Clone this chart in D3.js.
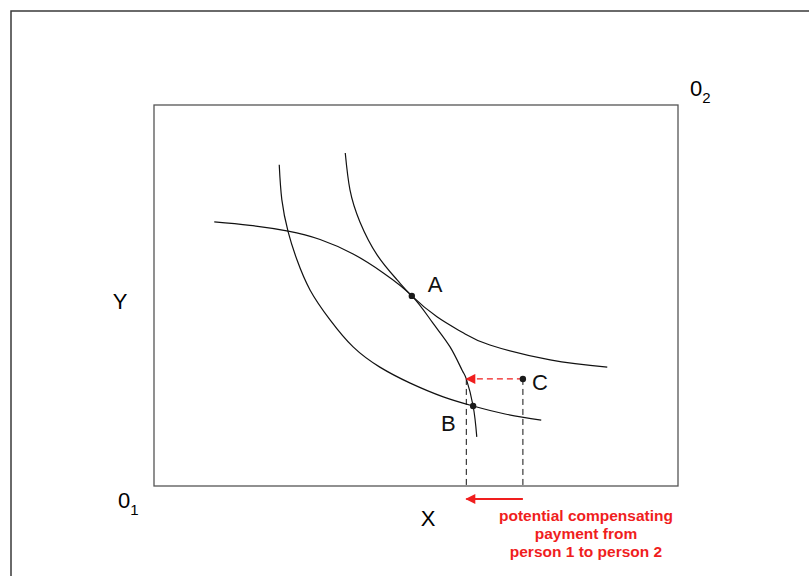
<!DOCTYPE html>
<html>
<head>
<meta charset="utf-8">
<script src="https://cdn.jsdelivr.net/npm/d3@7"></script>
<style>
body { margin: 0; background: #fff; }
svg { display: block; font-family: Arial, "Liberation Sans", sans-serif; }
</style>
</head>
<body>
<div id="chart"></div>
<script>
var width = 809;
var height = 576;

// indifference curves, in units of the box (X and Y from 0 to 10)
var person1Low = [[2.39,8.43],[2.44,7.51],[2.56,6.67],[2.73,5.93],[2.98,5.14],[3.36,4.36],[3.80,3.65],[4.31,3.12],[4.89,2.70],[5.52,2.34],[6.09,2.10],[6.70,1.89],[7.39,1.73]];
var person1High = [[3.65,8.74],[3.74,7.77],[3.93,6.93],[4.26,6.06],[4.64,5.41],[4.92,4.99],[5.40,4.44],[5.90,4.02],[6.41,3.70],[7.56,3.31],[8.65,3.12]];
var person2 = [[1.15,6.93],[1.83,6.84],[2.56,6.69],[3.17,6.47],[3.80,6.09],[4.37,5.60],[4.92,4.99],[5.32,4.28],[5.65,3.65],[5.88,3.04],[5.96,2.81],[6.09,2.10],[6.16,1.29]];

var pointNames = ['A', 'B', 'C'];
var pointValues = [[4.92,4.99],[6.09,2.10],[7.04,2.81]];
var compTarget = [5.96, 2.81];

var noteLines = ['potential compensating', 'payment from', 'person 1 to person 2'];

var box = {left: 154, right: 678, top: 105, bottom: 486};

var svg = d3.select('#chart')
			.append('svg')
			.attr('width', width)
			.attr('height', height);

var x_scale = d3.scaleLinear().domain([0, 10]).range([box.left, box.right]);
var y_scale = d3.scaleLinear().domain([0, 10]).range([box.bottom, box.top]);

var defs = svg.append('defs');
defs.append('marker')
	.attr('id', 'redhead')
	.attr('viewBox', '0 0 10 10')
	.attr('refX', 9)
	.attr('refY', 5)
	.attr('markerUnits', 'userSpaceOnUse')
	.attr('markerWidth', 11)
	.attr('markerHeight', 10)
	.attr('orient', 'auto')
	.append('path')
	.attr('d', 'M0,0 L10,5 L0,10 z')
	.attr('fill', '#f01e1e');

// outer frame (runs off the right and bottom edges)
svg.append('path')
	.attr('d', 'M11,' + (height + 5) + ' L11,11 L' + (width + 5) + ',11')
	.attr('fill', 'none')
	.attr('stroke', '#3a3a3a')
	.attr('stroke-width', 1.5);

// the box
svg.append('rect')
	.attr('x', x_scale(0))
	.attr('y', y_scale(10))
	.attr('width', x_scale(10) - x_scale(0))
	.attr('height', y_scale(0) - y_scale(10))
	.attr('fill', 'none')
	.attr('stroke', '#555')
	.attr('stroke-width', 1.3);

var line = d3.line()
			.x(function(d){ return x_scale(d[0]); })
			.y(function(d){ return y_scale(d[1]); })
			.curve(d3.curveNatural);

svg.append('g')
	.selectAll('path')
	.data([person1Low, person1High, person2])
	.enter()
	.append('path')
	.attr('d', line)
	.attr('fill', 'none')
	.attr('stroke', '#111')
	.attr('stroke-width', 1.2);

// dashed verticals down to the X axis
svg.append('g')
	.selectAll('line')
	.data([compTarget, pointValues[2]])
	.enter()
	.append('line')
	.attr('x1', function(d){ return x_scale(d[0]); })
	.attr('x2', function(d){ return x_scale(d[0]); })
	.attr('y1', function(d){ return y_scale(d[1]); })
	.attr('y2', y_scale(0))
	.attr('stroke', '#111')
	.attr('stroke-width', 1)
	.attr('stroke-dasharray', '6,4');

// red dashed arrow C -> curve
svg.append('line')
	.attr('x1', x_scale(pointValues[2][0]))
	.attr('y1', y_scale(pointValues[2][1]))
	.attr('x2', x_scale(compTarget[0]))
	.attr('y2', y_scale(compTarget[1]))
	.attr('stroke', '#f01e1e')
	.attr('stroke-width', 1.2)
	.attr('stroke-dasharray', '6,4')
	.attr('marker-end', 'url(#redhead)');

// red solid arrow under the axis
svg.append('line')
	.attr('x1', x_scale(pointValues[2][0]))
	.attr('y1', y_scale(0) + 13)
	.attr('x2', x_scale(compTarget[0]))
	.attr('y2', y_scale(0) + 13)
	.attr('stroke', '#f01e1e')
	.attr('stroke-width', 2)
	.attr('marker-end', 'url(#redhead)');

svg.append('g')
	.selectAll('circle')
	.data(pointValues)
	.enter()
	.append('circle')
	.attr('cx', function(d){ return x_scale(d[0]); })
	.attr('cy', function(d){ return y_scale(d[1]); })
	.attr('r', 3.2)
	.attr('fill', '#1a1a1a');

var labelOffsets = [[16, -4], [-32, 25], [9, 11]];
svg.append('g')
	.selectAll('text')
	.data(pointValues)
	.enter()
	.append('text')
	.text(function(d, i){ return pointNames[i]; })
	.attr('x', function(d, i){ return x_scale(d[0]) + labelOffsets[i][0]; })
	.attr('y', function(d, i){ return y_scale(d[1]) + labelOffsets[i][1]; })
	.attr('font-size', 22)
	.attr('fill', '#111');

// axis letters and origins
svg.append('text').text('Y')
	.attr('x', 120).attr('y', 309)
	.attr('text-anchor', 'middle')
	.attr('font-size', 22);

svg.append('text').text('X')
	.attr('x', 428).attr('y', 526)
	.attr('text-anchor', 'middle')
	.attr('font-size', 22);

var o1 = svg.append('text').attr('x', 118).attr('y', 508).attr('font-size', 22);
o1.append('tspan').text('0');
o1.append('tspan').text('1').attr('font-size', 15).attr('dy', 7);

var o2 = svg.append('text').attr('x', 690).attr('y', 96).attr('font-size', 22);
o2.append('tspan').text('0');
o2.append('tspan').text('2').attr('font-size', 15).attr('dy', 7);

svg.append('g')
	.selectAll('text')
	.data(noteLines)
	.enter()
	.append('text')
	.text(function(d){ return d; })
	.attr('x', 586)
	.attr('y', function(d, i){ return 521 + i * 18; })
	.attr('text-anchor', 'middle')
	.attr('font-size', 15.5)
	.attr('font-weight', 'bold')
	.attr('fill', '#f01e1e');
</script>
</body>
</html>
